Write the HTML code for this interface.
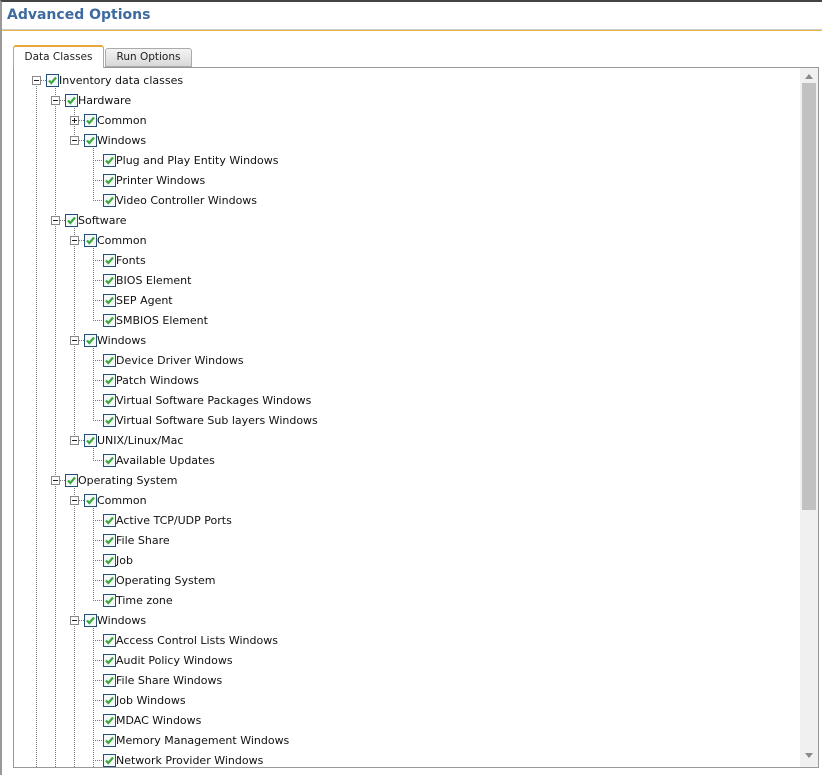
<!DOCTYPE html>
<html><head><meta charset="utf-8"><style>
*{margin:0;padding:0;box-sizing:border-box}
body{width:822px;height:775px;background:#fff;position:relative;overflow:hidden;font-family:"DejaVu Sans","Liberation Sans",sans-serif}
.frame{position:absolute;left:0;top:0;width:822px;height:775px;border-top:2px solid #444;border-left:2px solid #999}
.title{position:absolute;left:7px;top:7px;font:bold 14px "DejaVu Sans",sans-serif;color:#3e6b9f}
.gold{position:absolute;left:2px;top:29px;width:820px;height:2px;background:#e8b54a;border-top:1px solid #ccc}
.tab1{position:absolute;left:13px;top:45px;width:91px;height:23px;background:#fff;border:1px solid #aaa;border-top:2px solid #e8a73a;border-bottom:none;border-radius:3px 3px 0 0;font-size:10.5px;text-align:center;line-height:20px;color:#222;z-index:2}
.tab2{position:absolute;left:105px;top:48px;width:87px;height:19px;background:linear-gradient(#f4f4f4,#d8d8d8);border:1px solid #aaa;border-radius:3px 3px 0 0;font-size:10.5px;text-align:center;line-height:17px;color:#222}
.panel{position:absolute;left:13px;top:67px;width:806px;height:701px;border:1px solid #999;background:#fff;overflow:hidden}
.sb{position:absolute;left:800px;top:68px;width:18px;height:699px;background:#f0f0f0}
.thumb{position:absolute;left:802px;top:83px;width:14px;height:427px;background:#c1c1c1}
.t{position:absolute;font-size:11px;color:#111;white-space:nowrap;line-height:14px;margin-top:1px}
</style></head><body>
<div class="frame"></div>
<div class="title">Advanced Options</div>
<div class="gold"></div>
<div class="panel"></div>
<div class="tab2">Run Options</div>
<div class="tab1">Data Classes</div>
<div class="sb"></div><div class="thumb"></div>
<svg style="position:absolute;left:0;top:0" width="822" height="775">
<polygon points="805,79 813,79 809,74" fill="#888"/>
<polygon points="805,753 813,753 809,758" fill="#888"/>
<g stroke="#777" stroke-width="1" stroke-dasharray="1,1" fill="none">
<line x1="36.5" y1="86" x2="36.5" y2="767"/>
<line x1="55.5" y1="88" x2="55.5" y2="767"/>
<line x1="74.5" y1="108" x2="74.5" y2="140"/>
<line x1="74.5" y1="228" x2="74.5" y2="440"/>
<line x1="74.5" y1="488" x2="74.5" y2="767"/>
<line x1="93.5" y1="146" x2="93.5" y2="200"/>
<line x1="93.5" y1="246" x2="93.5" y2="320"/>
<line x1="93.5" y1="346" x2="93.5" y2="420"/>
<line x1="93.5" y1="446" x2="93.5" y2="460"/>
<line x1="93.5" y1="506" x2="93.5" y2="600"/>
<line x1="93.5" y1="626" x2="93.5" y2="767"/>
</g>
<g stroke="#777" stroke-dasharray="1,1">
<path d="M41 80.5H46M60 100.5H65M79 120.5H84M79 140.5H84M79 240.5H84M79 340.5H84M79 440.5H84M79 500.5H84M79 620.5H84M60 220.5H65M60 480.5H65"/>
<path d="M93 160.5H103M93 180.5H103M93 200.5H103M93 260.5H103M93 280.5H103M93 300.5H103M93 320.5H103M93 360.5H103M93 380.5H103M93 400.5H103M93 420.5H103M93 460.5H103M93 520.5H103M93 540.5H103M93 560.5H103M93 580.5H103M93 600.5H103M93 640.5H103M93 660.5H103M93 680.5H103M93 700.5H103M93 720.5H103M93 740.5H103M93 760.5H103"/>
</g>
<defs>
<g id="ex"><rect x="0.5" y="0.5" width="8" height="8" fill="#fff" stroke="#888"/><line x1="2" y1="4.5" x2="7" y2="4.5" stroke="#222"/></g>
<g id="px"><rect x="0.5" y="0.5" width="8" height="8" fill="#fff" stroke="#888"/><line x1="2" y1="4.5" x2="7" y2="4.5" stroke="#222"/><line x1="4.5" y1="2" x2="4.5" y2="7" stroke="#222"/></g>
<g id="cb"><rect x="0.5" y="0.5" width="12" height="12" fill="#f4f8fa" stroke="#24507a"/><path d="M3 6.5L5.3 9L10 3.5" stroke="#3aa83a" stroke-width="2.2" fill="none"/></g>
</defs>
<use href="#ex" x="32" y="76"/>
<use href="#ex" x="51" y="96"/><use href="#px" x="70" y="116"/><use href="#ex" x="70" y="136"/>
<use href="#ex" x="51" y="216"/><use href="#ex" x="70" y="236"/><use href="#ex" x="70" y="336"/><use href="#ex" x="70" y="436"/>
<use href="#ex" x="51" y="476"/><use href="#ex" x="70" y="496"/><use href="#ex" x="70" y="616"/>
<use href="#cb" x="46" y="74"/>
<use href="#cb" x="65" y="94"/><use href="#cb" x="84" y="114"/><use href="#cb" x="84" y="134"/>
<use href="#cb" x="103" y="154"/><use href="#cb" x="103" y="174"/><use href="#cb" x="103" y="194"/>
<use href="#cb" x="65" y="214"/><use href="#cb" x="84" y="234"/>
<use href="#cb" x="103" y="254"/><use href="#cb" x="103" y="274"/><use href="#cb" x="103" y="294"/><use href="#cb" x="103" y="314"/>
<use href="#cb" x="84" y="334"/>
<use href="#cb" x="103" y="354"/><use href="#cb" x="103" y="374"/><use href="#cb" x="103" y="394"/><use href="#cb" x="103" y="414"/>
<use href="#cb" x="84" y="434"/><use href="#cb" x="103" y="454"/>
<use href="#cb" x="65" y="474"/><use href="#cb" x="84" y="494"/>
<use href="#cb" x="103" y="514"/><use href="#cb" x="103" y="534"/><use href="#cb" x="103" y="554"/><use href="#cb" x="103" y="574"/><use href="#cb" x="103" y="594"/>
<use href="#cb" x="84" y="614"/>
<use href="#cb" x="103" y="634"/><use href="#cb" x="103" y="654"/><use href="#cb" x="103" y="674"/><use href="#cb" x="103" y="694"/><use href="#cb" x="103" y="714"/><use href="#cb" x="103" y="734"/><use href="#cb" x="103" y="754"/>
</svg>
<div class="t" style="left:59px;top:73px">Inventory data classes</div>
<div class="t" style="left:78px;top:93px">Hardware</div>
<div class="t" style="left:97px;top:113px">Common</div>
<div class="t" style="left:97px;top:133px">Windows</div>
<div class="t" style="left:116px;top:153px">Plug and Play Entity Windows</div>
<div class="t" style="left:116px;top:173px">Printer Windows</div>
<div class="t" style="left:116px;top:193px">Video Controller Windows</div>
<div class="t" style="left:78px;top:213px">Software</div>
<div class="t" style="left:97px;top:233px">Common</div>
<div class="t" style="left:116px;top:253px">Fonts</div>
<div class="t" style="left:116px;top:273px">BIOS Element</div>
<div class="t" style="left:116px;top:293px">SEP Agent</div>
<div class="t" style="left:116px;top:313px">SMBIOS Element</div>
<div class="t" style="left:97px;top:333px">Windows</div>
<div class="t" style="left:116px;top:353px">Device Driver Windows</div>
<div class="t" style="left:116px;top:373px">Patch Windows</div>
<div class="t" style="left:116px;top:393px">Virtual Software Packages Windows</div>
<div class="t" style="left:116px;top:413px">Virtual Software Sub layers Windows</div>
<div class="t" style="left:97px;top:433px">UNIX/Linux/Mac</div>
<div class="t" style="left:116px;top:453px">Available Updates</div>
<div class="t" style="left:78px;top:473px">Operating System</div>
<div class="t" style="left:97px;top:493px">Common</div>
<div class="t" style="left:116px;top:513px">Active TCP/UDP Ports</div>
<div class="t" style="left:116px;top:533px">File Share</div>
<div class="t" style="left:116px;top:553px">Job</div>
<div class="t" style="left:116px;top:573px">Operating System</div>
<div class="t" style="left:116px;top:593px">Time zone</div>
<div class="t" style="left:97px;top:613px">Windows</div>
<div class="t" style="left:116px;top:633px">Access Control Lists Windows</div>
<div class="t" style="left:116px;top:653px">Audit Policy Windows</div>
<div class="t" style="left:116px;top:673px">File Share Windows</div>
<div class="t" style="left:116px;top:693px">Job Windows</div>
<div class="t" style="left:116px;top:713px">MDAC Windows</div>
<div class="t" style="left:116px;top:733px">Memory Management Windows</div>
<div class="t" style="left:116px;top:753px;height:13px;overflow:hidden">Network Provider Windows</div>
<div style="position:absolute;left:13px;top:767px;width:806px;height:1px;background:#999"></div>
</body></html>
